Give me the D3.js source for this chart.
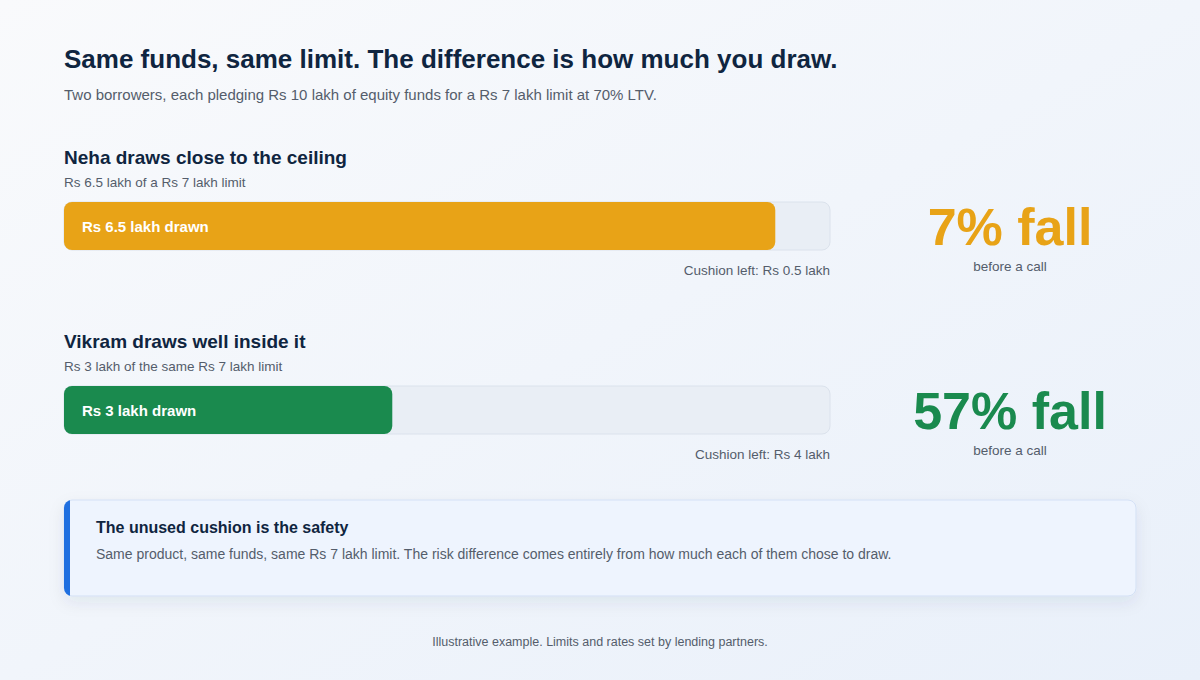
<!DOCTYPE html>
<html><head><meta charset="utf-8">
<script src="https://cdn.jsdelivr.net/npm/d3@7"></script>
<style>
html,body{margin:0;padding:0;}
body{width:1200px;height:680px;overflow:hidden;font-family:"Liberation Sans",Arial,sans-serif;}
</style></head>
<body><svg id="c" width="1200" height="680"></svg>
<script>
const limit = 7;
const borrowers = ["Neha", "Vikram"];
const headings = ["Neha draws close to the ceiling", "Vikram draws well inside it"];
const subheads = ["Rs 6.5 lakh of a Rs 7 lakh limit", "Rs 3 lakh of the same Rs 7 lakh limit"];
const drawn = [6.5, 3];
const drawnLabels = ["Rs 6.5 lakh drawn", "Rs 3 lakh drawn"];
const cushionLabels = ["Cushion left: Rs 0.5 lakh", "Cushion left: Rs 4 lakh"];
const fallPct = [7, 57];
const colors = ["#e8a317", "#1a8a4e"];
const gray = "#545d6b";

const svg = d3.select("#c");
const defs = svg.append("defs");
const bg = defs.append("linearGradient").attr("id","bg").attr("x1","0").attr("y1","0").attr("x2","1").attr("y2","1");
bg.append("stop").attr("offset","0").attr("stop-color","#f9fafc");
bg.append("stop").attr("offset","1").attr("stop-color","#e9f0fa");
const sh = defs.append("filter").attr("id","sh").attr("x","-10%").attr("y","-30%").attr("width","120%").attr("height","170%");
sh.append("feDropShadow").attr("dx",0).attr("dy",6).attr("stdDeviation",8).attr("flood-color","#1e3a5f").attr("flood-opacity",0.08);
const clip = defs.append("clipPath").attr("id","cbox");
clip.append("rect").attr("x",64).attr("y",500).attr("width",1072).attr("height",96).attr("rx",8);

svg.append("rect").attr("width",1200).attr("height",680).attr("fill","url(#bg)");

svg.append("text").attr("x",64).attr("y",68).attr("font-size",26).attr("font-weight",700).attr("fill","#0f2540")
  .text("Same funds, same limit. The difference is how much you draw.");
svg.append("text").attr("x",64).attr("y",100).attr("font-size",15).attr("fill",gray)
  .text("Two borrowers, each pledging Rs 10 lakh of equity funds for a Rs 7 lakh limit at 70% LTV.");

const x = d3.scaleLinear().domain([0, limit]).range([64, 830]);
const y = d3.scaleBand().domain(borrowers).range([202, 570]).paddingInner(0).paddingOuter(0);
const barH = 48;

borrowers.forEach((b, i) => {
  const top = y(b);
  const g = svg.append("g");
  g.append("text").attr("x",64).attr("y",top-38).attr("font-size",19).attr("font-weight",700).attr("fill","#0f2540").text(headings[i]);
  g.append("text").attr("x",64).attr("y",top-15).attr("font-size",13.5).attr("fill",gray).text(subheads[i]);
  g.append("rect").attr("x",x(0)).attr("y",top).attr("width",x(limit)-x(0)).attr("height",barH).attr("rx",8)
    .attr("fill","#e9eef5").attr("stroke","#dbe2ec").attr("stroke-width",1);
  g.append("rect").attr("x",x(0)).attr("y",top).attr("width",x(drawn[i])-x(0)).attr("height",barH).attr("rx",8)
    .attr("fill",colors[i]);
  g.append("text").attr("x",x(0)+18).attr("y",top+barH/2+6).attr("font-size",15).attr("font-weight",700).attr("fill","#ffffff").text(drawnLabels[i]);
  g.append("text").attr("x",x(limit)).attr("y",top+73).attr("text-anchor","end").attr("font-size",13.5).attr("fill",gray).text(cushionLabels[i]);
  g.append("text").attr("x",1010).attr("y",top+43).attr("text-anchor","middle").attr("font-size",52).attr("font-weight",700).attr("fill",colors[i]).text(fallPct[i] + "% fall");
  g.append("text").attr("x",1010).attr("y",top+69).attr("text-anchor","middle").attr("font-size",13.5).attr("fill",gray).text("before a call");
});

// callout
svg.append("rect").attr("x",64).attr("y",500).attr("width",1072).attr("height",96).attr("rx",8)
  .attr("fill","#eef4fe").attr("stroke","#d3e0f5").attr("stroke-width",1).attr("filter","url(#sh)");
svg.append("rect").attr("x",64).attr("y",500).attr("width",6).attr("height",96).attr("fill","#1f6fe0").attr("clip-path","url(#cbox)");
svg.append("text").attr("x",96).attr("y",533).attr("font-size",16).attr("font-weight",700).attr("fill","#0f2540").text("The unused cushion is the safety");
svg.append("text").attr("x",96).attr("y",559).attr("font-size",14).attr("fill",gray)
  .text("Same product, same funds, same Rs 7 lakh limit. The risk difference comes entirely from how much each of them chose to draw.");

svg.append("text").attr("x",600).attr("y",646).attr("text-anchor","middle").attr("font-size",12.5).attr("fill",gray)
  .text("Illustrative example. Limits and rates set by lending partners.");
</script>
</body></html>
